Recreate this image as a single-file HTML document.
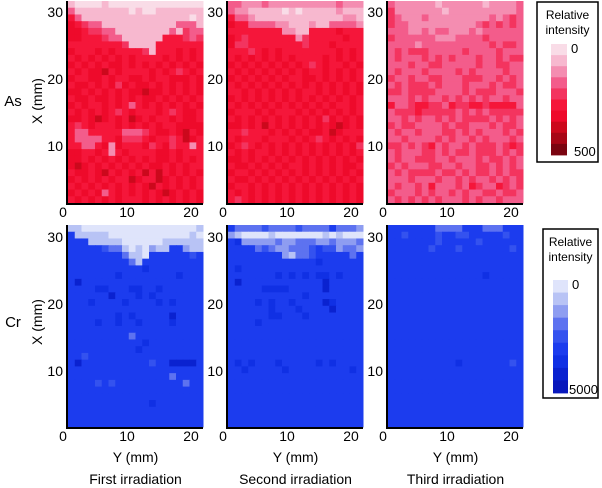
<!DOCTYPE html>
<html><head><meta charset="utf-8"><style>
html,body{margin:0;padding:0;background:#fff;}
svg{display:block;font-family:"Liberation Sans",sans-serif;}
</style></head><body>
<svg id="chart" width="602" height="488" viewBox="0 0 602 488" xmlns="http://www.w3.org/2000/svg"></svg>
<script>
// Colour levels (0 = lowest intensity … 9 = highest)
const redLevels = ["#f9dce7","#f7b8cf","#f48db1","#f35c8b","#f3345f","#f5163a","#ee0a2b","#cc081c","#a80616","#7a0410"];
const blueLevels = ["#dfe4fb","#b8c3f5","#8e9df1","#5d72f0","#3452ef","#1c3cee","#1030e4","#0a22d0","#0818bc","#0612a8"];
// Per-panel cell levels, rows from top (X≈31mm) to bottom, 20 columns each
const asFirst = [
"10000100000000000000","31111111101001111111","53111111111111111101","65433111111111113331",
"66544331111111131433","66555433111111555434","55555555411115555555","65556565555415556565",
"56565656565555656565","65656566565656565656","56566756555565654565","65566565566565566656",
"56656564656656565656","66565656566766565656","56656656565665656565","65655656535656565656",
"56565654565556545665","66567656576565565665","54565556565656556666","53355555333456656756",
"53333556444565545765","55335626555645645525","66556525655556656555","66565656565656656565",
"67656565656566565655","56656756565757565656","65656565576557656565","56565656565675656565",
"65656356565656765656","56565656555656565656"];
const asSecond = [
"33222322222222223222","32211111010111112111","53321111111111111221","65533332211121133332",
"55555555221155556555","65455555552455555655","64455555555455565555","55545656555555556565",
"56565656565555656565","65656565656545655656","56565656565655656565","65656565655665656565",
"56565656565656565656","55656565656556565656","65656565656565656565","56565656565656565565",
"65556565556565656565","56565656565656465656","66565756565656567656","55455565656566576555",
"56555655565654565656","65456565656565656564","56565565656565656565","66565656565656565656",
"56656565655656565665","65565656565656565656","56656565656565656565","65565656565656565656",
"56565656565656565656","54565656565656565656"];
const asThird = [
"32222221222222122223","42222222122222222223","43222322222222232343","43322222222223434343",
"33322323322232333333","43333332223333433333","33332333333333343443","34344433333433334333",
"34333434343334334344","33343344333334334433","34333433334343333433","43343344333444334343",
"34344434333433343443","44344443333434443334","33343433434343433433","53345544354455455553",
"34445444443434344444","33434334343444434343","43443333434433343443","34334333443434333434",
"33433334343343433343","44343453433434443454","34333443434434443434","34334443343334344343",
"43433344334334434343","34344443443434434344","33343334334343343434","34334353334354335434",
"43334343343433443443","34343434333434334333"];
const crFirst = [
"11000000000000000001","51111100000000000010","55511111000000111111","55555433101021155211",
"55555555311055555545","55555555531555555555","55555555555655555555","55555556555555556555",
"57555555555555555555","55556655566556555555","55555575556565555555","55565555655556565555",
"55555555555555555555","55555556565555575555","55556556556555565555","55555555555555555555",
"55555555535555555555","55555555555655555555","55555555556555555555","55455555555555555555",
"57555555555545577775","55555555555555555555","55555555555555535555","55554545555555555355",
"55555555555555555555","55555555555555555555","55555555555565555555","55555555555555555555",
"55555555555555555555","55555555555555555555"];
const crSecond = [
"53333433334333353332","21000010000000101000","56222223223332232223","55553432233345442332",
"55555555213345555535","55555555555556555555","56555555555555555555","55555556565656656555",
"57555555555555755555","55555666655555755555","55555555555655555555","55556565565555765555",
"55555565556555575555","55555566555655555555","55556555555555555555","55555555555555555555",
"55555555555555555555","55555555555555555555","55555555555555555555","55555555555555555555",
"56565556555556565555","55655555655555555565","55555555555555555555","55555555555555555555",
"55555555555555555555","55555555555555555555","55555555555555555555","55555555555555555555",
"55555555555555555555","55555555555555555555"];
const crThird = [
"55555553333555333555","55455554554455555455","55555554555554555555","55555545554555555545",
"55555555555555555555","55555555555555555555","55555555555555555555","55555555555555655555",
"55555555555555555555","55555555555555555555","55555555555555555555","55555555555555555555",
"55555555555555555555","55555555555555555555","55555555555555555555","55555555555555555555",
"55555555555555555555","55555555555555555555","55555555555555555555","55555555555555555555",
"55555555556555555545","55555555555555555555","55555555555555555555","55555555555555555555",
"55555555555555555555","55555555555555555555","55555555555555555555","55555555555555555555",
"55555555555555555555","55555555555555555555"];
const xTicks = ["0","10","20"];
const yTicks = ["30","20","10"];
const yTickValues = [30,20,10];
const xTickValues = [0,10,20];
const columnTitles = ["First irradiation","Second irradiation","Third irradiation"];

const NS = "http://www.w3.org/2000/svg";
const svg = document.getElementById("chart");
function mk(tag, attrs, parent){
  const e = document.createElementNS(NS, tag);
  for (const k in attrs) e.setAttribute(k, attrs[k]);
  (parent||svg).appendChild(e);
  return e;
}
const panelX = [68, 228, 388];
const panelY = [1, 225];
const PW = 135, PH = 202;
const cols = 20, rows = 30;
function xScale(p, mm){ return panelX[p] - 5 + mm * 6.4; }
function yScale(r, mm){ return (r===0 ? 12 : 237) + (30 - mm) * 6.7; }

const grids = [[asFirst, asSecond, asThird],[crFirst, crSecond, crThird]];
for (let r = 0; r < 2; r++){
  for (let p = 0; p < 3; p++){
    const data = grids[r][p];
    const pal = r===0 ? redLevels : blueLevels;
    const g = mk("g", {});
    
    
    const cw = PW/cols, ch = PH/rows;
    for (let i = 0; i < rows; i++){
      for (let j = 0; j < cols; j++){
        const lv = +data[i][j];
        const c = mk("rect", {x:(panelX[p]+j*cw).toFixed(2), y:(panelY[r]+i*ch).toFixed(2), width:(cw+0.5).toFixed(2), height:(ch+0.5).toFixed(2), fill:pal[lv]}, g);
        
        
      }
    }
    const ax = mk("path", {d:`M${panelX[p]-1},${panelY[r]} V${panelY[r]+PH+1} H${panelX[p]+PW}`, stroke:"#000", "stroke-width":2, fill:"none"});
    
    
    const tickY = r===0 ? 217 : 441;
    for (let t = 0; t < xTicks.length; t++){
      const tx = mk("text", {x:xScale(p, xTickValues[t]), y:tickY, "font-size":14, "text-anchor":"middle", fill:"#000"});
      tx.textContent = xTicks[t];
      
      
    }
    for (let t = 0; t < yTicks.length; t++){
      const ty = mk("text", {x:panelX[p]-5, y:yScale(r, yTickValues[t])+5, "font-size":14, "text-anchor":"end", fill:"#000"});
      ty.textContent = yTicks[t];
      
      
    }
    if (r===1){
      const xt = mk("text", {x:panelX[p]+PW/2, y:462, "font-size":14, "text-anchor":"middle", fill:"#000"});
      xt.textContent = "Y (mm)";
      
      
      const ct = mk("text", {x:panelX[p]+PW/2, y:484, "font-size":14, "text-anchor":"middle", fill:"#000"});
      ct.textContent = columnTitles[p];
      
      
    }
  }
  const el = mk("text", {x:13, y:(r===0?106:327), "font-size":15, "text-anchor":"middle", fill:"#000"});
  el.textContent = r===0 ? "As" : "Cr";
  
  
  const yc = r===0 ? 101 : 322;
  const yt = mk("text", {x:37, y:yc, "font-size":14, "text-anchor":"middle", fill:"#000", transform:`rotate(-90 37 ${yc}) translate(0 5)`});
  yt.textContent = "X (mm)";
  
  
}

const legends = [
  {box:[537,2,61,160], bar:[551,44,16,111], pal:redLevels, n:10, hi:"500", name:"as-legend"},
  {box:[543,229,55,169], bar:[553,280,15,113], pal:blueLevels, n:9, hi:"5000", name:"cr-legend"}
];
legends.forEach(L=>{
  const g = mk("g", {});
  
  
  mk("rect", {x:L.box[0], y:L.box[1], width:L.box[2], height:L.box[3], fill:"#fff", stroke:"#000", "stroke-width":1.5}, g);
  const cx = L.box[0]+L.box[2]/2;
  const t1 = mk("text", {x:cx, y:L.box[1]+17, "font-size":12, "text-anchor":"middle"}, g); t1.textContent="Relative";
  const t2 = mk("text", {x:cx, y:L.box[1]+32, "font-size":12, "text-anchor":"middle"}, g); t2.textContent="intensity";
  const bh = L.bar[3]/L.n;
  for (let i=0;i<L.n;i++){
    mk("rect", {x:L.bar[0], y:(L.bar[1]+i*bh).toFixed(2), width:L.bar[2], height:(bh+0.4).toFixed(2), fill:L.pal[i]}, g);
  }
  const l0 = mk("text", {x:L.bar[0]+L.bar[2]+4, y:L.bar[1]+9, "font-size":13}, g); l0.textContent="0";
  const l1 = mk("text", {x:L.bar[0]+L.bar[2]+(L.hi==="500"?7:1), y:L.bar[1]+L.bar[3]+1, "font-size":13}, g); l1.textContent=L.hi;
});
</script>
</body></html>
